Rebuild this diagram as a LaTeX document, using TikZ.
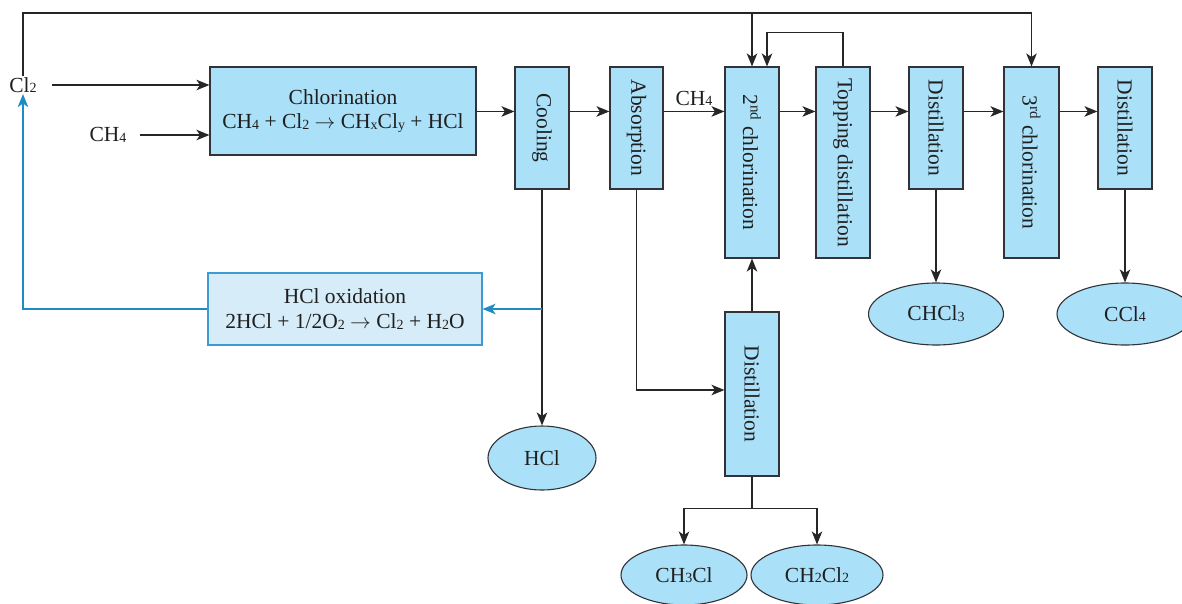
\documentclass[tikz,border=0pt]{standalone}
\usepackage{fontspec}
\setmainfont{Liberation Serif}
\usetikzlibrary{arrows.meta,shapes.geometric,calc}
\definecolor{boxfill}{RGB}{170,224,248}
\definecolor{boxline}{RGB}{50,50,55}
\definecolor{oxfill}{RGB}{214,236,249}
\definecolor{oxline}{RGB}{60,155,210}
\definecolor{recycle}{RGB}{30,140,195}
\newcommand{\sbs}[1]{\raisebox{-0.8pt}{\fontsize{14}{14}\selectfont #1}}
\newcommand{\vtext}[1]{\rotatebox{-90}{#1}}
\tikzset{
  txt/.style={font=\fontsize{21.5}{24.5}\selectfont, text=black!88},
  unit/.style={txt, draw=boxline, fill=boxfill, line width=1.1pt, inner sep=0pt, align=center},
  product/.style={txt, ellipse, draw=boxline, fill=boxfill, line width=1.1pt, inner sep=0pt},
  flow/.style={draw=black!85, line width=1.3pt},
  arr/.style={flow, -{Stealth[length=13pt,width=10.5pt,inset=3.5pt]}},
  bluearr/.style={draw=recycle, line width=1.3pt, -{Stealth[length=13pt,width=10.5pt,inset=3.5pt]}},
}
\begin{document}
\begin{tikzpicture}[x=1pt,y=-1pt]
\useasboundingbox (0,0) rectangle (1182,603);
\clip (0,0) rectangle (1182,603);

% feed labels
\node[txt, inner sep=1pt] (cl2) at (23,85) {Cl\sbs{2}};
\node[txt, inner sep=1pt] (ch4) at (108,135) {CH\sbs{4}};

% process units, main line
\node[unit, minimum width=266pt, minimum height=88pt] (chl) at (343,111)
  {Chlorination\\ CH\sbs{4} + Cl\sbs{2} $\rightarrow$ CH\sbs{x}Cl\sbs{y} + HCl};
\node[unit, minimum width=54pt, minimum height=122pt] (cool) at (542,128) {\vtext{Cooling}};
\node[unit, minimum width=53pt, minimum height=122pt] (abs) at (636.5,128) {\vtext{Absorption}};
\node[unit, minimum width=54pt, minimum height=191pt] (c2) at (752,162.5) {\vtext{2\textsuperscript{nd} chlorination}};
\node[unit, minimum width=54pt, minimum height=191pt] (topd) at (843,162.5) {\vtext{Topping distillation}};
\node[unit, minimum width=54pt, minimum height=122pt] (d1) at (936,128) {\vtext{Distillation}};
\node[unit, minimum width=55pt, minimum height=191pt] (c3) at (1031.5,162.5) {\vtext{3\textsuperscript{rd} chlorination}};
\node[unit, minimum width=54pt, minimum height=122pt] (d2) at (1125,128) {\vtext{Distillation}};
\node[unit, minimum width=54pt, minimum height=164pt] (d3) at (752,394) {\vtext{Distillation}};

% HCl recycle unit
\node[unit, draw=oxline, fill=oxfill, minimum width=274pt, minimum height=72pt] (hox) at (345,309)
  {HCl oxidation\\ 2HCl + 1/2O\sbs{2} $\rightarrow$ Cl\sbs{2} + H\sbs{2}O};

% products
\node[product, minimum width=108pt, minimum height=64pt] (hcl) at (542,458) {HCl};
\node[product, minimum width=135pt, minimum height=62pt] (chcl3) at (936,314) {CHCl\sbs{3}};
\node[product, minimum width=136pt, minimum height=62pt] (ccl4) at (1125,314) {CCl\sbs{4}};
\node[product, minimum width=126pt, minimum height=60pt] (ch3cl) at (684,575) {CH\sbs{3}Cl};
\node[product, minimum width=132pt, minimum height=60pt] (ch2cl2) at (817,575) {CH\sbs{2}Cl\sbs{2}};

% chlorine header along the top
\coordinate (hdr) at (23,13);
\draw[arr] (cl2.north) -- (hdr) -| (c3.north);
\draw[arr] (c2.north |- hdr) -- (c2.north);

% feeds into chlorination
\draw[arr] ([xshift=14pt]cl2.east) -- (cl2.east -| chl.west);
\draw[arr] ([xshift=12pt]ch4.east) -- (ch4.east -| chl.west);

% main process line
\draw[arr] (chl.east |- cool.north) ++(0,45) coordinate (m1) -- (m1 -| cool.west);
\draw[arr] (m1 -| cool.east) -- (m1 -| abs.west);
\draw[arr] (m1 -| abs.east) -- (m1 -| c2.west) node[txt, pos=0.5, above=4pt, inner sep=1pt] (ch4b) {CH\sbs{4}};
\draw[arr] (m1 -| c2.east) -- (m1 -| topd.west);
\draw[arr] (m1 -| topd.east) -- (m1 -| d1.west);
\draw[arr] (m1 -| d1.east) -- (m1 -| c3.west);
\draw[arr] (m1 -| c3.east) -- (m1 -| d2.west);

% topping distillation recycle
\draw[arr] (topd.north) -- ++(0,-34) -| ([xshift=15pt]c2.north);

% HCl split off after cooling
\draw[arr] (cool.south) -- (hcl.north);
\coordinate (hbr) at (cool.south |- hox.east);
\draw[bluearr] (hbr) -- (hox.east);
\draw[bluearr] (hox.west) -| (cl2.south);

% absorption bottoms to distillation
\draw[arr] (abs.south) |- ([yshift=4pt]d3.west);
\draw[arr] (d3.north) -- (c2.south);
\coordinate (sp) at ($(d3.south)+(0,32)$);
\draw[flow] (d3.south) -- (sp);
\draw[arr] (sp) -| (ch3cl.north);
\draw[arr] (sp) -| (ch2cl2.north);

% product draws
\draw[arr] (d1.south) -- (chcl3.north);
\draw[arr] (d2.south) -- (ccl4.north);
\end{tikzpicture}
\end{document}
